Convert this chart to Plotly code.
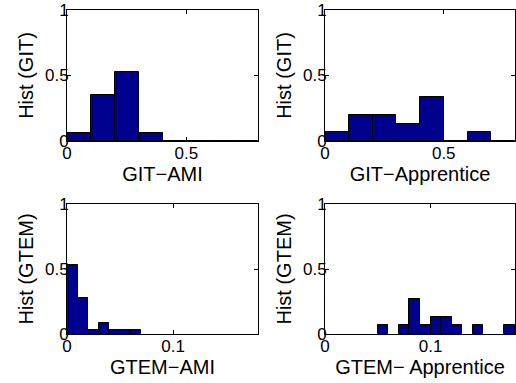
import plotly.graph_objects as go

# ---- data (bin centres and relative frequencies) ----
git_ami_x = [0.05, 0.15, 0.25, 0.35, 0.45, 0.55, 0.65, 0.75]
git_ami_y = [0.059, 0.353, 0.529, 0.059, 0, 0, 0, 0]

git_app_x = [0.05, 0.15, 0.25, 0.35, 0.45, 0.55, 0.65, 0.75]
git_app_y = [0.067, 0.2, 0.2, 0.133, 0.333, 0, 0.067, 0]

gtem_ami_x = [0.005, 0.015, 0.025, 0.035, 0.045, 0.055, 0.065]
gtem_ami_y = [0.528, 0.278, 0.028, 0.083, 0.028, 0.028, 0.028]

gtem_app_x = [0.055, 0.075, 0.085, 0.095, 0.105, 0.115, 0.125, 0.145, 0.175]
gtem_app_y = [0.067, 0.067, 0.267, 0.067, 0.133, 0.133, 0.067, 0.067, 0.067]

x_titles = ["GIT\u2212AMI", "GIT\u2212Apprentice", "GTEM\u2212AMI", "GTEM\u2212 Apprentice"]
y_titles = ["Hist (GIT)", "Hist (GIT)", "Hist (GTEM)", "Hist (GTEM)"]
x_ranges = [[0, 0.8], [0, 0.8], [0, 0.18], [0, 0.18]]
x_ticks = [[0, 0.5], [0, 0.5], [0, 0.1], [0, 0.1]]
x_ticktext = [["0", "0.5"], ["0", "0.5"], ["0", "0.1"], ["0", "0.1"]]
y_ticks = [0, 0.5, 1]
y_ticktext = ["0", "0.5", "1"]
bin_widths = [0.1, 0.1, 0.01, 0.01]

series = [(git_ami_x, git_ami_y), (git_app_x, git_app_y),
          (gtem_ami_x, gtem_ami_y), (gtem_app_x, gtem_app_y)]

W, H = 516, 383
# pixel boxes of the four axes: (left, right, top, bottom)
boxes = [(67, 258, 10, 141), (325, 515, 10, 141),
         (67, 258, 204, 334), (325, 515, 204, 334)]

BAR = "rgb(0,0,143)"
FONT = "Liberation Sans, Arial, Helvetica, sans-serif"

fig = go.Figure()
layout = dict(
    width=W, height=H,
    margin=dict(l=0, r=0, t=0, b=0, autoexpand=False),
    paper_bgcolor="white", plot_bgcolor="white",
    showlegend=False, bargap=0,
    font=dict(family=FONT, size=17, color="black"),
)

for i, ((xs, ys), box) in enumerate(zip(series, boxes)):
    n = "" if i == 0 else str(i + 1)
    l, r, t, b = box
    fig.add_trace(go.Bar(
        x=xs, y=ys, width=bin_widths[i],
        marker=dict(color=BAR, line=dict(color="black", width=1)),
        xaxis="x" + n, yaxis="y" + n, hoverinfo="skip", cliponaxis=False,
    ))
    layout["xaxis" + n] = dict(
        domain=[l / W, r / W], anchor="y" + n, range=x_ranges[i],
        tickvals=x_ticks[i], ticktext=x_ticktext[i],
        ticks="inside", ticklen=4, tickcolor="black",
        showline=True, linecolor="black", linewidth=1, mirror="ticks",
        showgrid=False, zeroline=False, automargin=False,
        tickfont=dict(size=17), ticklabelstandoff=-3,
        title=dict(text=x_titles[i], font=dict(size=20), standoff=0),
    )
    layout["yaxis" + n] = dict(
        domain=[1 - b / H, 1 - t / H], anchor="x" + n, range=[0, 1],
        tickvals=y_ticks, ticktext=y_ticktext,
        ticks="inside", ticklen=4, tickcolor="black",
        showline=True, linecolor="black", linewidth=1, mirror="ticks",
        showgrid=False, zeroline=False, automargin=False,
        tickfont=dict(size=17), ticklabelstandoff=-6,
        title=dict(text=y_titles[i], font=dict(size=20), standoff=5),
    )

fig.update_layout(**layout)
fig.write_html("out.html", config={"displayModeBar": False},
               post_script="document.body.style.margin='0px';")
